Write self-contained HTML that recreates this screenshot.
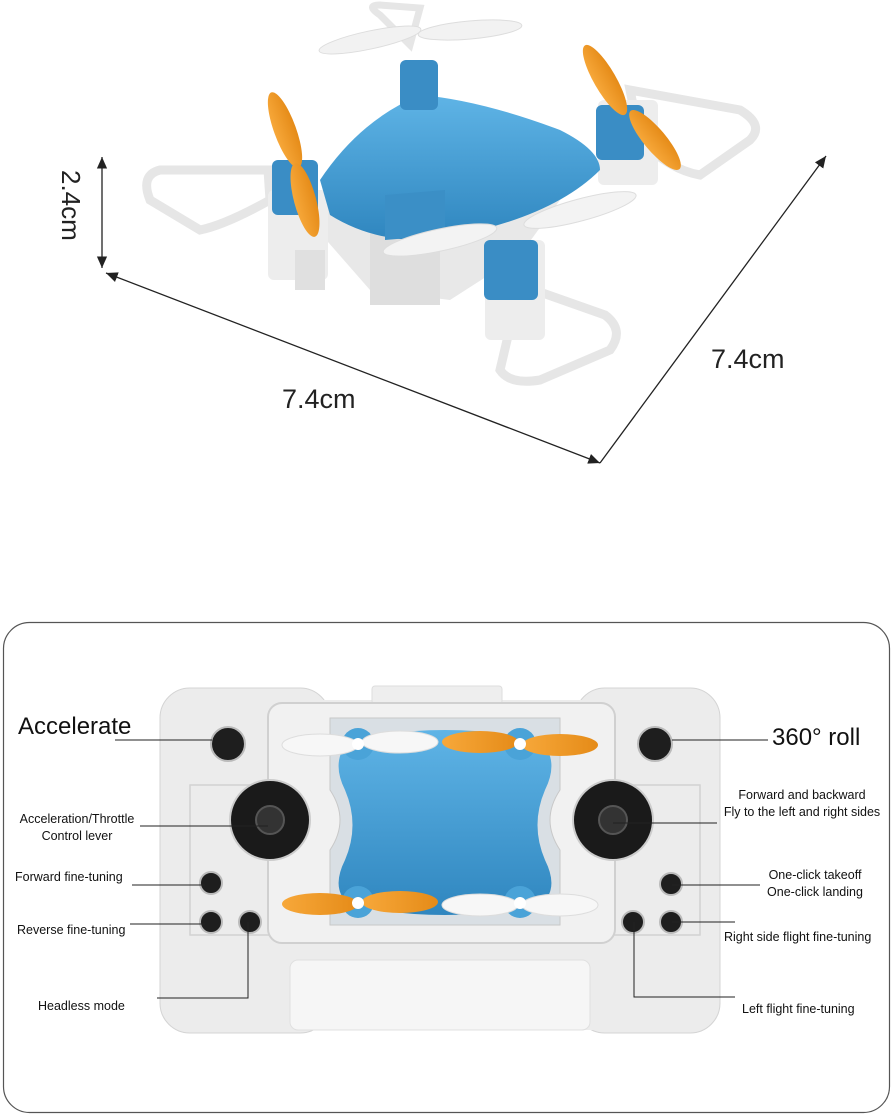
<!DOCTYPE html>
<html><head><meta charset="utf-8"><style>
html,body{margin:0;padding:0;background:#fff;}
svg{display:block;font-family:"Liberation Sans",sans-serif;}
</style></head><body>
<svg width="893" height="1117" viewBox="0 0 893 1117" xmlns="http://www.w3.org/2000/svg">
<defs>
<marker id="ah" markerWidth="10" markerHeight="10" refX="9" refY="5" orient="auto-start-reverse"><path d="M0,1 L9,5 L0,9 z" fill="#222"/></marker>
<linearGradient id="blue" x1="0" y1="0" x2="0" y2="1"><stop offset="0" stop-color="#5fb4e6"/><stop offset="1" stop-color="#2f86bf"/></linearGradient>
<linearGradient id="orng" x1="0" y1="0" x2="1" y2="0"><stop offset="0" stop-color="#f7a83a"/><stop offset="1" stop-color="#e58b18"/></linearGradient>
</defs>

<!-- dimension lines -->
<line x1="102" y1="157" x2="102" y2="268" stroke="#222" stroke-width="1.3" marker-start="url(#ah)" marker-end="url(#ah)"/>
<text x="0" y="0" font-size="26" fill="#222" transform="translate(62,170) rotate(90)">2.4cm</text>
<line x1="106" y1="273" x2="600" y2="463" stroke="#222" stroke-width="1.3" marker-start="url(#ah)" marker-end="url(#ah)"/>
<line x1="600" y1="463" x2="826" y2="156" stroke="#222" stroke-width="1.3" marker-end="url(#ah)"/>
<text x="282" y="408" font-size="27" fill="#222">7.4cm</text>
<text x="711" y="368" font-size="27" fill="#222">7.4cm</text>

<!-- drone -->
<g stroke="#d8d8d8" stroke-width="2">
<!-- guards -->
<path d="M268,170 L160,170 Q140,175 150,200 L200,230 Q225,225 270,200 Z" fill="none" stroke="#e6e6e6" stroke-width="9"/>
<path d="M630,90 L740,110 Q765,125 750,140 L700,175 Q670,170 640,140 Z" fill="none" stroke="#e6e6e6" stroke-width="9"/>
<path d="M520,285 L500,370 Q510,385 540,380 L610,350 Q625,330 605,315 Z" fill="none" stroke="#e6e6e6" stroke-width="9"/>
<path d="M410,45 L380,15 Q365,5 380,5 L420,8 Z" fill="none" stroke="#e6e6e6" stroke-width="7"/>
</g>
<!-- grey base -->
<path d="M300,210 L370,290 L450,300 L520,255 L560,200 L300,190 Z" fill="#e8e8e8"/>
<rect x="370" y="230" width="70" height="75" fill="#dedede"/>
<!-- arms -->
<rect x="268" y="190" width="60" height="90" rx="6" fill="#ededed"/>
<rect x="295" y="250" width="30" height="40" fill="#e0e0e0"/>
<rect x="485" y="240" width="60" height="100" rx="6" fill="#ededed"/>
<rect x="598" y="100" width="60" height="85" rx="6" fill="#ededed"/>
<!-- blue body -->
<path d="M320,180 Q360,120 420,95 Q480,100 560,130 Q600,150 600,170 Q560,210 480,230 L420,240 Q370,240 330,215 Z" fill="url(#blue)"/>
<path d="M385,195 L445,190 L445,235 L385,240 Z" fill="#3b8fc6"/>
<rect x="400" y="60" width="38" height="50" rx="6" fill="#3a8dc5"/>
<rect x="272" y="160" width="46" height="55" rx="6" fill="#3a8dc5"/>
<rect x="596" y="105" width="48" height="55" rx="6" fill="#3a8dc5"/>
<rect x="484" y="240" width="54" height="60" rx="6" fill="#3a8dc5"/>
<!-- props -->
<ellipse cx="370" cy="40" rx="52" ry="9" fill="#f2f2f2" stroke="#ddd" transform="rotate(-12 370 40)"/>
<ellipse cx="470" cy="30" rx="52" ry="9" fill="#f2f2f2" stroke="#ddd" transform="rotate(-5 470 30)"/>
<ellipse cx="285" cy="130" rx="11" ry="40" fill="url(#orng)" transform="rotate(-20 285 130)"/>
<ellipse cx="305" cy="200" rx="11" ry="38" fill="url(#orng)" transform="rotate(-15 305 200)"/>
<ellipse cx="605" cy="80" rx="11" ry="40" fill="url(#orng)" transform="rotate(-30 605 80)"/>
<ellipse cx="655" cy="140" rx="11" ry="38" fill="url(#orng)" transform="rotate(-40 655 140)"/>
<ellipse cx="440" cy="240" rx="58" ry="11" fill="#f3f3f3" stroke="#ddd" transform="rotate(-12 440 240)"/>
<ellipse cx="580" cy="210" rx="58" ry="11" fill="#f3f3f3" stroke="#ddd" transform="rotate(-15 580 210)"/>

<!-- bottom frame -->
<rect x="3.5" y="622.5" width="886" height="490" rx="26" fill="none" stroke="#555" stroke-width="1.2"/>

<!-- controller -->
<rect x="160" y="688" width="170" height="345" rx="30" fill="#ececec" stroke="#d4d4d4"/>
<rect x="575" y="688" width="145" height="345" rx="30" fill="#ececec" stroke="#d4d4d4"/>
<rect x="260" y="700" width="370" height="330" fill="#ececec"/>
<rect x="372" y="686" width="130" height="18" rx="3" fill="#eee" stroke="#ddd"/>
<rect x="190" y="785" width="510" height="150" fill="none" stroke="#d2d2d2" stroke-width="1.5"/>
<rect x="290" y="960" width="300" height="70" rx="8" fill="#f6f6f6" stroke="#e0e0e0"/>
<!-- compartment -->
<rect x="268" y="703" width="347" height="240" rx="14" fill="#f1f1f1" stroke="#d0d0d0" stroke-width="2"/>
<path d="M330,718 L560,718 L560,790 Q540,820 560,850 L560,925 L330,925 L330,850 Q350,820 330,790 Z" fill="#d9dfe4" stroke="#c8c8c8"/>
<path d="M350,740 Q445,720 540,740 Q560,760 545,790 Q530,825 545,860 Q560,890 540,905 Q445,925 350,905 Q330,890 345,860 Q360,825 345,790 Q330,760 350,740 Z" fill="url(#blue)"/>
<circle cx="358" cy="744" r="16" fill="#4aa3d8"/><circle cx="520" cy="744" r="16" fill="#4aa3d8"/>
<circle cx="358" cy="902" r="16" fill="#4aa3d8"/><circle cx="520" cy="902" r="16" fill="#4aa3d8"/>
<ellipse cx="320" cy="745" rx="38" ry="11" fill="#f7f7f7" stroke="#ddd"/>
<ellipse cx="400" cy="742" rx="38" ry="11" fill="#f7f7f7" stroke="#ddd"/>
<ellipse cx="480" cy="742" rx="38" ry="11" fill="url(#orng)"/>
<ellipse cx="560" cy="745" rx="38" ry="11" fill="url(#orng)"/>
<ellipse cx="320" cy="904" rx="38" ry="11" fill="url(#orng)"/>
<ellipse cx="400" cy="902" rx="38" ry="11" fill="url(#orng)"/>
<ellipse cx="480" cy="905" rx="38" ry="11" fill="#f7f7f7" stroke="#ddd"/>
<ellipse cx="560" cy="905" rx="38" ry="11" fill="#f7f7f7" stroke="#ddd"/>
<circle cx="358" cy="744" r="6" fill="#fff"/><circle cx="520" cy="744" r="6" fill="#fff"/>
<circle cx="358" cy="903" r="6" fill="#fff"/><circle cx="520" cy="903" r="6" fill="#fff"/>

<!-- buttons -->
<g fill="#1e1e1e" stroke="#bbb" stroke-width="2">
<circle cx="228" cy="744" r="17"/><circle cx="655" cy="744" r="17"/>
<circle cx="211" cy="883" r="11"/><circle cx="211" cy="922" r="11"/><circle cx="250" cy="922" r="11"/>
<circle cx="671" cy="884" r="11"/><circle cx="671" cy="922" r="11"/><circle cx="633" cy="922" r="11"/>
</g>
<circle cx="270" cy="820" r="40" fill="#1a1a1a" stroke="#ccc" stroke-width="2"/>
<circle cx="270" cy="820" r="14" fill="#333" stroke="#555" stroke-width="2"/>
<circle cx="613" cy="820" r="40" fill="#1a1a1a" stroke="#ccc" stroke-width="2"/>
<circle cx="613" cy="820" r="14" fill="#333" stroke="#555" stroke-width="2"/>

<!-- leader lines -->
<g stroke="#222" stroke-width="1" fill="none">
<line x1="115" y1="740" x2="212" y2="740"/>
<line x1="672" y1="740" x2="768" y2="740"/>
<line x1="140" y1="826" x2="268" y2="826"/>
<line x1="132" y1="885" x2="205" y2="885"/>
<line x1="130" y1="924" x2="205" y2="924"/>
<polyline points="157,998 248,998 248,922"/>
<line x1="613" y1="823" x2="717" y2="823"/>
<line x1="672" y1="885" x2="760" y2="885"/>
<line x1="672" y1="922" x2="735" y2="922"/>
<polyline points="634,922 634,997 735,997"/>
</g>

<!-- labels -->
<g fill="#111">
<text x="18" y="734" font-size="24">Accelerate</text>
<text x="772" y="745" font-size="24">360° roll</text>
<text x="77" y="823" font-size="12.5" text-anchor="middle">Acceleration/Throttle</text>
<text x="77" y="840" font-size="12.5" text-anchor="middle">Control lever</text>
<text x="15" y="881" font-size="12.5">Forward fine-tuning</text>
<text x="17" y="934" font-size="12.5">Reverse fine-tuning</text>
<text x="38" y="1010" font-size="12.5">Headless mode</text>
<text x="802" y="799" font-size="12.5" text-anchor="middle">Forward and backward</text>
<text x="802" y="816" font-size="12.5" text-anchor="middle">Fly to the left and right sides</text>
<text x="815" y="879" font-size="12.5" text-anchor="middle">One-click takeoff</text>
<text x="815" y="896" font-size="12.5" text-anchor="middle">One-click landing</text>
<text x="724" y="941" font-size="12.5">Right side flight fine-tuning</text>
<text x="742" y="1013" font-size="12.5">Left flight fine-tuning</text>
</g>
</svg>
</body></html>
